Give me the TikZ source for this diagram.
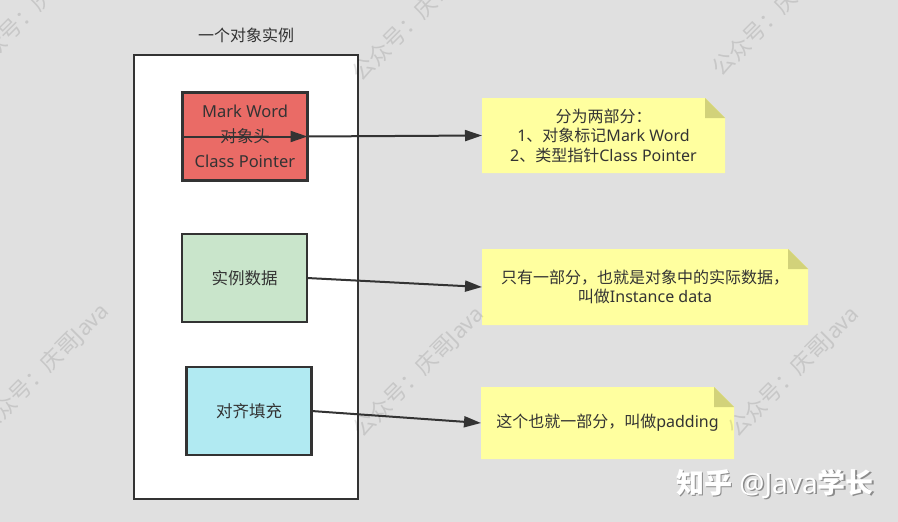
\documentclass[tikz,border=0pt]{standalone}
\usepackage{fontspec}
\setmainfont{Noto Sans}
\newfontfamily\cjk{Noto Sans CJK SC}
\usetikzlibrary{arrows.meta,backgrounds}
\definecolor{bgc}{HTML}{E0E0E0}
\definecolor{ink}{HTML}{333333}
\definecolor{redf}{HTML}{EA6B66}
\definecolor{greenf}{HTML}{C9E5CB}
\definecolor{cyanf}{HTML}{B1EAF2}
\definecolor{notef}{HTML}{FFFF9F}
\definecolor{foldf}{HTML}{D2D27A}
\begin{document}
\begin{tikzpicture}[x=1pt,y=-1pt,
  part/.style={draw=ink,line width=2.5pt,minimum width=125pt,minimum height=88pt,
    inner sep=0pt,outer sep=0pt,text=ink,font=\fontsize{16.5}{25}\selectfont,align=center},
  notebox/.style={inner sep=0pt,outer sep=0pt,text=ink,font=\fontsize{16}{19.5}\selectfont,align=center},
  link/.style={draw=ink,line width=2pt,-{Triangle[length=17pt,width=11pt]}},
  wm/.style={rotate=45,text=black,text opacity=0.11,font=\fontsize{22}{22}\selectfont,inner sep=0pt},
  zhtext/.style={font=\bfseries\fontsize{28}{28}\selectfont}
]
\useasboundingbox (0,0) rectangle (898,522);
\begin{scope}[on background layer]
  \fill[bgc] (0,0) rectangle (898,522);
\end{scope}

% container
\node[draw=ink,line width=2.5pt,fill=white,minimum width=224pt,minimum height=444pt,inner sep=0pt] (obj) at (246,277) {};
\node[text=ink,font=\cjk\fontsize{16}{16}\selectfont] (title) at (246,35) {一个对象实例};

% parts
\node[part,fill=redf] (hdr) at (245,136.5) {Mark Word\\{\cjk 对象头}\\Class Pointer};
\node[part,fill=greenf] (data) at (244.5,278) {\cjk 实例数据};
\node[part,fill=cyanf] (pad) at (249,411) {\cjk 对齐填充};

% notes
\node[notebox,minimum width=243pt,minimum height=75pt] (n1) at (603.5,135.5)
  {{\cjk 分为两部分：}\\1{\cjk 、对象标记}Mark Word\\2{\cjk 、类型指针}Class Pointer};
\node[notebox,minimum width=326pt,minimum height=76pt] (n2) at (645,287)
  {{\cjk 只有一部分，也就是对象中的实际数据，}\\{\cjk 叫做}Instance data};
\node[notebox,minimum width=253pt,minimum height=72pt] (n3) at (607.5,423)
  {{\cjk 这个也就一部分，叫做}padding};

\begin{scope}[on background layer]
\foreach \n in {n1,n2,n3} {
  \fill[notef] (\n.south west) -- (\n.north west) -- ([xshift=-20pt]\n.north east)
    -- ([yshift=-20pt]\n.north east) -- (\n.south east) -- cycle;
  \fill[foldf] ([xshift=-20pt]\n.north east) -- ([xshift=-20pt,yshift=-20pt]\n.north east)
    -- ([yshift=-20pt]\n.north east) -- cycle;
}
\end{scope}

% connectors
\draw[link] (hdr.west) -- (hdr.east);
\draw[link] (hdr.east) -- (n1.west);
\draw[link] (data.east) -- (n2.west);
\draw[link] (pad.east) -- (n3.west);

% watermarks
\node[wm] (wm1) at (34,8) {{\cjk 公众号：庆哥}Java};
\node[wm] (wm2) at (418,16) {{\cjk 公众号：庆哥}Java};
\node[wm] (wm3) at (778,11) {{\cjk 公众号：庆哥}Java};
\node[wm] (wm4) at (44,369) {{\cjk 公众号：庆哥}Java};
\node[wm] (wm5) at (419,372) {{\cjk 公众号：庆哥}Java};
\node[wm] (wm6) at (794,372) {{\cjk 公众号：庆哥}Java};

\node[zhtext,text=black!45] (zhs) at (776.5,485.5) {{\cjk 知乎} @Java{\cjk 学长}};
\node[zhtext,text=white] (zh) at (775,484) {{\cjk 知乎} @Java{\cjk 学长}};
\end{tikzpicture}
\end{document}
